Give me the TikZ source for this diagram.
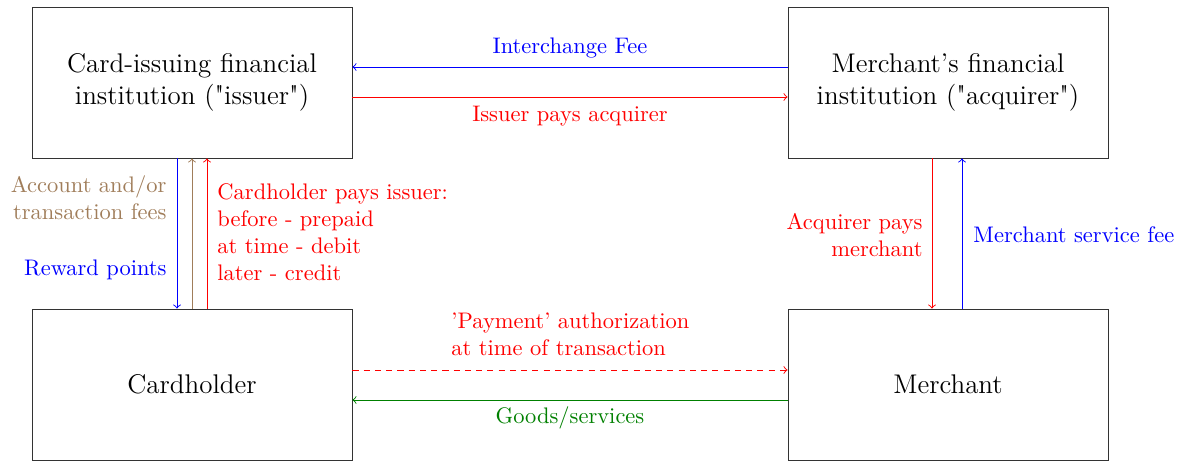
\documentclass[tikz,border=0pt]{standalone}
\usetikzlibrary{calc}
\begin{document}
\begin{tikzpicture}[x=0.015625cm,y=-0.015625cm,
  box/.style={draw=black!80,line width=0.4pt,minimum width=5cm,minimum height=2.359cm,inner sep=0pt,align=center,font=\large},
  lbl/.style={inner sep=0pt,font=\normalsize},
  flow/.style={->,line width=0.4pt},
  brownc/.style={color={rgb,255:red,160;green,125;blue,90}}]
\useasboundingbox (0,0) rectangle (1181,462);
\node[box] (iss) at (192,82.5) {Card-issuing financial\\institution (\textquotedbl issuer\textquotedbl)};
\node[box] (acq) at (948,82.5) {Merchant’s financial\\institution (\textquotedbl acquirer\textquotedbl)};
\node[box] (card) at (192,384.5) {Cardholder};
\node[box] (mer) at (948,384.5) {Merchant};
% top
\draw[flow,blue] (acq.west |- 0,67) -- (iss.east |- 0,67);
\draw[flow,red] (iss.east |- 0,97) -- (acq.west |- 0,97);
\node[lbl,blue] (l1) at (570,48) {Interchange Fee};
\node[lbl,red] (l2) at (570,116) {Issuer pays acquirer};
% left
\draw[flow,blue] (iss.south -| 177,0) -- (card.north -| 177,0);
\draw[flow,brownc] (card.north -| 192,0) -- (iss.south -| 192,0);
\draw[flow,red] (card.north -| 207,0) -- (iss.south -| 207,0);
\node[lbl,brownc,anchor=east,align=right] (l3) at (167,198) {Account and/or\\transaction fees};
\node[lbl,blue,anchor=east] (l4) at (167,270) {Reward points};
\node[lbl,red,anchor=west,align=left] (l5) at (217,232) {Cardholder pays issuer:\\before - prepaid\\at time - debit\\later - credit};
% right
\draw[flow,red] (acq.south -| 932,0) -- (mer.north -| 932,0);
\draw[flow,blue] (mer.north -| 962,0) -- (acq.south -| 962,0);
\node[lbl,red,anchor=east,align=right] (l6) at (923,235) {Acquirer pays\\merchant};
\node[lbl,blue,anchor=west] (l7) at (973,235) {Merchant service fee};
% bottom
\draw[flow,red,dash pattern=on 2.7pt off 2.3pt] (card.east |- 0,370) -- (mer.west |- 0,370);
\draw[flow,green!50!black] (mer.west |- 0,400) -- (card.east |- 0,400);
\node[lbl,red,anchor=west,align=left] (l8) at (451,334) {'Payment' authorization\\at time of transaction};
\node[lbl,green!50!black] (l9) at (570,418) {Goods/services};
\end{tikzpicture}
\end{document}
